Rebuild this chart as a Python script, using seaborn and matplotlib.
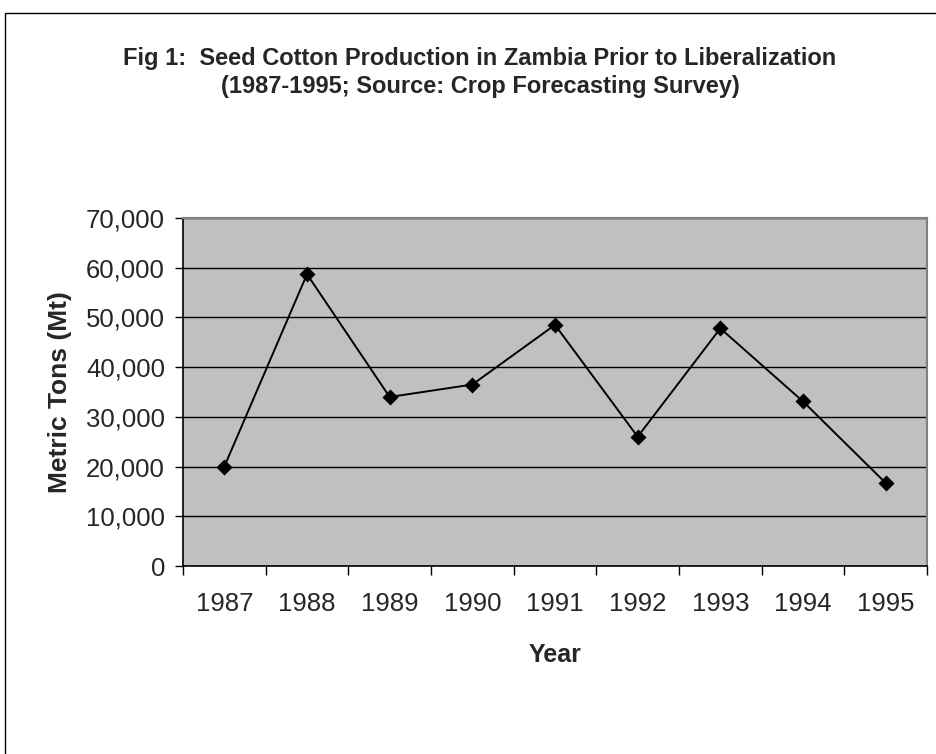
import matplotlib
matplotlib.use('Agg')
import matplotlib.pyplot as plt
import matplotlib.patches as mpatches
import matplotlib.ticker as mticker
import pandas as pd
import seaborn as sns

# -----------------------------
# Chart data
# -----------------------------
years = ["1987", "1988", "1989", "1990", "1991", "1992", "1993", "1994", "1995"]
tons = [20000, 58700, 34000, 36500, 48500, 26000, 47800, 33100, 16700]
y_ticks = [0, 10000, 20000, 30000, 40000, 50000, 60000, 70000]

title = ("Fig 1:  Seed Cotton Production in Zambia Prior to Liberalization\n"
         "(1987-1995; Source: Crop Forecasting Survey)")

df = pd.DataFrame({"year": years, "tons": tons})

sns.set_theme(style="white")
plt.rcParams['font.family'] = ['Liberation Sans', 'DejaVu Sans']

fig = plt.figure(figsize=(9.37, 7.54), dpi=100)
ax = fig.add_axes([183 / 937, 1 - 566 / 754, 744 / 937, 348 / 754])
ax.set_facecolor("#c0c0c0")

# outer chart frame (cut off at right and bottom like the original)
fig.patches.append(mpatches.Rectangle((5 / 937, -0.1), 1.0, 1 - 13 / 754 + 0.1,
                                      transform=fig.transFigure, fill=False,
                                      edgecolor="black", linewidth=1.0, zorder=0))

sns.pointplot(data=df, x="year", y="tons", color="black", markers="D",
              linestyles="-", markersize=7, linewidth=1.4, ax=ax)

ax.set_ylim(0, 70000)
ax.set_xlim(-0.5, len(years) - 0.5)
ax.set_yticks(y_ticks)
ax.yaxis.set_major_formatter(mticker.FuncFormatter(lambda v, p: f"{int(v):,}"))
ax.grid(axis="y", color="black", linewidth=1.0)
ax.set_axisbelow(True)

# ticks at category boundaries, labels at category centers
ax.set_xticks([i - 0.5 for i in range(len(years) + 1)])
ax.set_xticklabels([])
ax.set_xticks(range(len(years)), minor=True)
ax.set_xticklabels(years, minor=True)
ax.tick_params(axis="x", which="major", direction="out", length=6.5, width=1,
               color="black", bottom=True)
ax.tick_params(axis="x", which="minor", length=0, pad=19, labelsize=18.5)
ax.tick_params(axis="y", direction="out", length=6, width=1, color="black",
               left=True, labelsize=18.5, pad=7)

for side in ["left", "bottom"]:
    ax.spines[side].set_color("black")
    ax.spines[side].set_linewidth(1.2)
for side in ["top", "right"]:
    ax.spines[side].set_color("#808080")
    ax.spines[side].set_linewidth(1.5)

ax.set_xlabel("Year", fontsize=18, fontweight="bold", labelpad=19)
ax.set_ylabel("Metric Tons (Mt)", fontsize=19, fontweight="bold", labelpad=10)

fig.text(480 / 937, 1 - 72.5 / 754, title, ha="center", va="center",
         fontsize=17, fontweight="bold", linespacing=1.25)

fig.savefig("out.png", dpi=100)
